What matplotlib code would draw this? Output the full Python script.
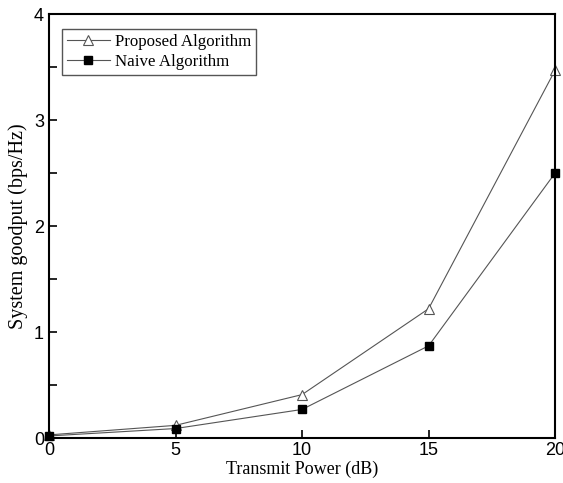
import numpy as np
import matplotlib.pyplot as plt
from matplotlib.ticker import MultipleLocator

power_db = [0, 5, 10, 15, 20]
proposed = [0.03, 0.12, 0.41, 1.22, 3.47]
naive = [0.02, 0.09, 0.27, 0.87, 2.50]

fig = plt.figure(figsize=(5.63, 4.83), dpi=100)
ax = fig.add_axes([0.087, 0.093, 0.899, 0.878])

ax.plot(power_db, proposed, color='#555555', linewidth=0.8, marker='^', markersize=7.5,
        markerfacecolor='white', markeredgecolor='#555555', markeredgewidth=0.8,
        label='Proposed Algorithm', clip_on=False)
ax.plot(power_db, naive, color='#555555', linewidth=0.8, marker='s', markersize=5.5,
        markerfacecolor='black', markeredgecolor='black',
        label='Naive Algorithm', clip_on=False)

ax.set_xlim(0, 20)
ax.set_ylim(0, 4)
ax.xaxis.set_major_locator(MultipleLocator(5))
ax.yaxis.set_major_locator(MultipleLocator(1))
ax.yaxis.set_minor_locator(MultipleLocator(0.5))
ax.tick_params(direction='in', which='both', length=6, width=1.2, labelsize=13)
ax.tick_params(axis='x', pad=3)
for lbl in ax.get_xticklabels() + ax.get_yticklabels():
    lbl.set_family('Liberation Sans')
for s in ax.spines.values():
    s.set_linewidth(1.5)

ax.set_xlabel('Transmit Power (dB)', family='Liberation Serif', fontsize=13, labelpad=1)
ax.set_ylabel('System goodput (bps/Hz)', family='Liberation Serif', fontsize=14.5, labelpad=4)

leg = ax.legend(loc='upper left', bbox_to_anchor=(0.026, 0.965), borderaxespad=0,
                fancybox=False, framealpha=1, edgecolor='#555555',
                prop={'family': 'Liberation Serif', 'size': 12.2},
                handlelength=2.5, borderpad=0.3, labelspacing=0.25, handletextpad=0.3)
leg.get_frame().set_linewidth(1.0)

plt.savefig('out.png', format='png')
